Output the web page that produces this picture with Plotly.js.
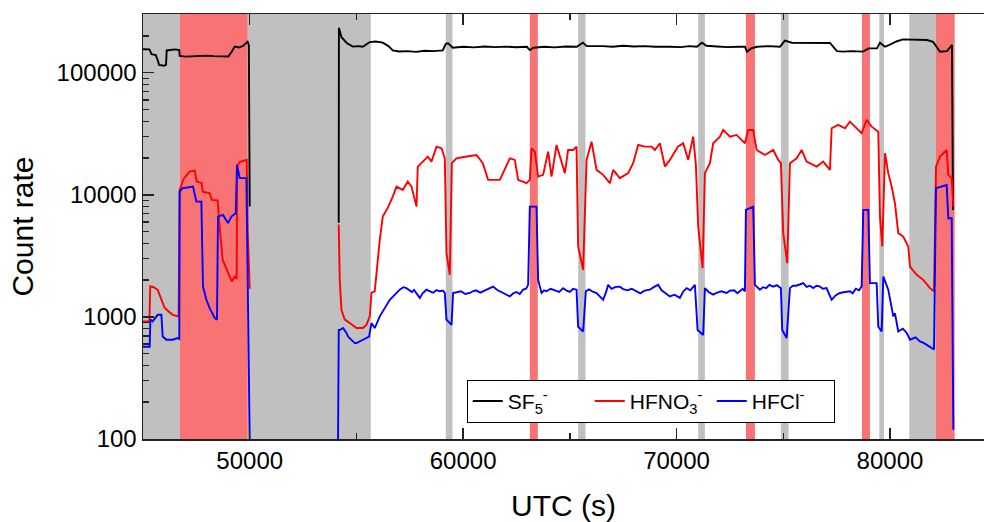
<!DOCTYPE html>
<html>
<head>
<meta charset="utf-8">
<script src="https://cdn.plot.ly/plotly-3.0.1.min.js"></script>
<style>html,body{margin:0;padding:0;background:#fff;}#chart{width:984px;height:522px;}</style>
</head>
<body>
<div id="chart"></div>
<script>
// ---- data (UTC seconds, count rate) ----
const seriesNames = ['SF<sub>5</sub><sup>-</sup>', 'HFNO<sub>3</sub><sup>-</sup>', 'HFCl<sup>-</sup>'];

const sf5 = [
[45000,155600],[45300,155000],[45400,142000],[45600,139600],[45700,125000],[45750,115600],[46000,114000],[46080,116000],[46110,152000],[46300,153500],[46500,155000],[46700,153000],[46720,137000],[47000,135200],[47300,136500],[47600,137500],[48000,138000],[48300,136500],[48600,136000],[49000,135500],[49150,148000],[49300,163400],[49500,161000],[49700,166000],[49900,179400],[49960,168000],[50000,8000],[null,null],
[54170,5900],[54180,233000],[54300,195000],[54547,175000],[54830,163400],[55100,165000],[55300,163000],[55625,178000],[55900,180000],[56234,176000],[56500,165000],[56703,152000],[57000,149000],[57400,150000],[57800,148000],[58200,151000],[58600,150000],[59047,152000],[59188,172000],[59300,174000],[59516,160000],[60000,163000],[60500,161000],[61000,164000],[61500,162000],[62000,163500],[62500,161500],[62984,163000],[63125,153000],[63300,160000],[63800,163000],[64300,161000],[64800,164000],[65328,163000],[65609,176000],[65800,165000],[66547,165000],[67000,163000],[67500,166000],[68000,164000],[68500,165000],[69000,163000],[69688,163000],[70200,162000],[70600,165000],[70953,163000],[71188,176000],[71400,166000],[71900,164000],[72400,162000],[72900,163000],[73203,163000],[73297,148600],[73500,158000],[73766,163000],[74300,165000],[74844,163000],[75078,182800],[75400,176000],[76000,176000],[76600,175000],[77188,175000],[77516,150000],[77800,148600],[78200,150000],[78734,148600],[79000,158000],[79391,158000],[79531,176000],[79766,163000],[80000,170000],[80300,180000],[80609,187500],[81000,187000],[81400,188000],[81734,185000],[82016,179000],[82344,148600],[82672,150000],[82906,168700],[82953,7500]
];

const hfno3 = [
[45000,916],[45300,920],[45340,1780],[45500,1750],[45690,1667],[45860,1380],[46000,1200],[46110,1143],[46390,1040],[46670,1007],[46715,10970],[46900,13500],[47190,15500],[47420,15800],[47520,12800],[47750,12500],[47800,10600],[48130,10300],[48220,9080],[48500,9000],[48550,6640],[48730,2930],[48970,2290],[49160,1950],[49300,2140],[49390,2050],[49410,17000],[49530,18500],[49860,19300],[49910,4860],[50000,1700],[null,null],
[54170,5700],[54219,2010],[54298,1140],[54453,950],[54688,890],[55002,810],[55297,810],[55470,860],[55625,1010],[55705,1580],[55859,1620],[55939,2300],[56094,4280],[56234,6630],[56469,7810],[56703,9660],[56877,11670],[57172,10960],[57406,12840],[57580,11670],[57814,8000],[57875,17020],[58109,18700],[58344,20530],[58517,18700],[58752,24780],[58986,24030],[59141,19890],[59220,3330],[59375,2210],[59469,18140],[59689,19890],[60100,20500],[60627,21190],[60922,18140],[61170,13250],[61719,13250],[61873,15030],[62188,19890],[62422,19300],[62577,13250],[62970,12440],[63125,13250],[63205,24030],[63359,22550],[63514,14100],[63748,14560],[63983,22550],[64142,14100],[64377,25580],[64531,20530],[64766,15030],[64920,23280],[65155,23280],[65314,24780],[65389,3770],[65623,2430],[65783,19300],[66017,27230],[66252,15990],[66561,14560],[66875,12440],[67030,15990],[67344,13680],[67733,15030],[67967,18140],[68202,25580],[68516,24780],[68830,24780],[68984,23280],[69219,26410],[69453,17020],[69688,19300],[70063,24780],[70311,26410],[70545,19300],[70780,29920],[70906,17570],[71014,5500],[71220,2510],[71328,15030],[71563,18140],[71717,26410],[72031,29920],[72186,33960],[72500,29920],[72814,30900],[73203,26410],[73358,33960],[73592,33960],[73752,23280],[74141,21190],[74530,23280],[74764,19300],[74891,18140],[74998,4850],[75186,2750],[75313,18140],[75627,19890],[75861,23280],[76095,18700],[76564,17020],[76873,18700],[77188,15990],[77267,35070],[77577,37330],[77891,35070],[78125,39720],[78359,36140],[78673,31900],[78908,41020],[79142,36140],[79452,32890],[79531,6630],[79639,3770],[79766,21880],[79920,15030],[80080,11670],[80234,8500],[80389,4850],[80623,4550],[80858,3770],[80938,2580],[81252,2210],[81561,2010],[81875,1720],[82063,1620],[82156,17020],[82344,20530],[82658,23280],[82733,14560],[82892,13680],[82970,8000]
];

const hfcl = [
[45000,570],[45313,570],[45345,950],[45453,920],[45688,1040],[45861,1040],[45922,690],[46095,650],[46391,650],[46625,670],[46700,660],[46719,10620],[46859,11320],[47342,11670],[47502,8790],[47736,8790],[47811,1770],[47970,1380],[48125,1180],[48359,980],[48467,950],[48514,6630],[48748,6840],[48983,5860],[49142,6630],[49344,7060],[49405,17570],[49531,13680],[49845,13680],[49920,1890],[50000,100],[null,null],
[54139,100],[54172,780],[54219,780],[54373,810],[54533,740],[54608,690],[54922,610],[55002,610],[55311,650],[55592,690],[55705,890],[55859,810],[56094,1010],[56563,1380],
[57031,1670],[57200,1750],[57345,1720],[57500,1640],[57600,1600],[57700,1660],[57814,1570],[57969,1430],[58100,1560],[58283,1670],[58450,1620],[58600,1580],[58750,1660],[58906,1620],[59050,1640],[59141,1570],[59220,950],[59455,860],[59530,1570],[59700,1600],[59900,1620],[60100,1540],[60313,1570],[60450,1620],[60600,1650],[60800,1580],[60936,1620],[61100,1680],[61250,1720],[61405,1770],[61600,1660],[61800,1600],[62000,1540],[62188,1470],[62350,1560],[62500,1600],[62650,1540],[62811,1670],[62950,1700],[63045,1830],
[63125,8000],[63439,8000],[63514,2010],
[63673,1570],[63800,1650],[63908,1620],[64100,1700],[64300,1650],[64500,1600],[64686,1720],[64850,1640],[65000,1600],[65150,1700],[65314,1670],[65389,830],[65623,760],[65750,1620],[65900,1680],[66100,1600],[66252,1570],[66400,1480],[66561,1380],[66700,1600],[66795,1830],[66950,1700],[67150,1760],[67344,1770],[67500,1690],[67700,1650],[67900,1700],[68127,1620],[68300,1560],[68500,1640],[68750,1670],[68950,1760],[69139,1830],[69300,1650],[69500,1550],[69688,1470],[69900,1520],[70156,1430],[70300,1600],[70470,1720],[70650,1650],[70859,1830],
[70986,780],[71248,710],
[71328,1720],[71500,1600],[71717,1520],[71900,1580],[72100,1620],[72345,1570],[72500,1640],[72700,1650],[72850,1560],[72969,1620],[73100,1700],[73203,1620],
[73250,7520],[73592,8000],
[73672,1830],[73906,1670],[74050,1750],[74200,1720],[74350,1830],[74530,1770],[74700,1820],[74891,1720],
[74952,780],[75158,670],
[75313,1720],[75450,1800],[75600,1800],[75800,1850],[75936,1890],[76100,1760],[76250,1800],[76405,1720],[76550,1800],[76700,1780],[76850,1700],[77030,1720],[77267,1380],[77450,1500],[77656,1570],[77900,1600],[78125,1620],[78250,1560],[78400,1700],[78550,1650],[78673,1770],
[78748,7520],[78983,7520],[79063,1890],[79377,1890],[79452,830],[79611,760],[79689,2140],[79920,1670],[80155,1010],[80234,1070],[80389,760],[80600,800],[80783,740],[80938,650],[81200,680],[81406,630],[81600,610],[81875,570],[82063,540],[82156,11320],[82658,12000],[82733,6430],[82892,6430],[82970,119]
];

// shaded intervals [start, end] in UTC seconds
const greyBands = [[45000,46720],[49906,55672],[59188,59500],[65390,65734],[71016,71328],[74890,75250],[79500,79720],[80906,82156]];
const redBands = [[46720,49906],[63125,63500],[73250,73672],[78690,79063],[82156,83031]];

const xTickVals = [50000, 60000, 70000, 80000];
const xTickText = ['50000', '60000', '70000', '80000'];
const yTickVals = [100, 1000, 10000, 100000];
const yTickText = ['100', '1000', '10000', '100000'];

// ---- build ----
const colors = ['#000000', '#FF0000', '#0000FF'];
const data = [sf5, hfno3, hfcl].map((s, i) => ({
  type: 'scatter', mode: 'lines', name: seriesNames[i],
  x: s.map(p => p[0]), y: s.map(p => p[1]),
  connectgaps: false,
  line: {color: colors[i], width: 1.9}
}));

const shapes = [];
greyBands.forEach(b => shapes.push({type:'rect', xref:'x', yref:'paper', x0:b[0], x1:b[1], y0:0, y1:1, fillcolor:'#C0C0C0', line:{width:0}, layer:'below'}));
redBands.forEach(b => shapes.push({type:'rect', xref:'x', yref:'paper', x0:b[0], x1:b[1], y0:0, y1:1, fillcolor:'#F87373', line:{width:0}, layer:'below'}));

const font = 'Liberation Sans, Arial, sans-serif';
const layout = {
  width: 984, height: 522,
  margin: {l: 143, r: 0, t: 14, b: 83},
  paper_bgcolor: '#fff', plot_bgcolor: '#fff',
  font: {family: font, color: '#000'},
  showlegend: true,
  legend: {
    orientation: 'h', x: 0.385, y: 0.139, xanchor: 'left', yanchor: 'top',
    bgcolor: '#fff', bordercolor: '#000', borderwidth: 1,
    font: {family: font, size: 21, color: '#000'},
    itemwidth: 30, entrywidth: 77, entrywidthmode: 'pixels'
  },
  xaxis: {
    range: [45000, 84406], showgrid: false, zeroline: false,
    showline: true, linecolor: '#222', linewidth: 1.5, mirror: 'ticks',
    ticks: 'inside', ticklen: 11, tickwidth: 1.5, tickcolor: '#222',
    tickvals: xTickVals, ticktext: xTickText,
    tickfont: {family: font, size: 24, color: '#000'},
    minor: {ticks: 'inside', ticklen: 6, tickwidth: 1.5, tickcolor: '#222', dtick: 5000, tick0: 0, showgrid: false},
    title: {text: 'UTC (s)', font: {family: font, size: 30, color: '#000'}, standoff: 23}
  },
  yaxis: {
    type: 'log', range: [2, 5.4804], showgrid: false, zeroline: false,
    showline: true, linecolor: '#222', linewidth: 1.5, mirror: false,
    ticks: 'inside', ticklen: 11, tickwidth: 1.5, tickcolor: '#222',
    tickvals: yTickVals, ticktext: yTickText,
    tickfont: {family: font, size: 24, color: '#000'},
    minor: {ticks: 'inside', ticklen: 6, tickwidth: 1.5, tickcolor: '#222', dtick: 'D1', showgrid: false},
    title: {text: 'Count rate', font: {family: font, size: 30, color: '#000'}, standoff: 14}
  },
  shapes: shapes
};

Plotly.newPlot('chart', data, layout, {displayModeBar: false, staticPlot: true});
</script>
</body>
</html>
